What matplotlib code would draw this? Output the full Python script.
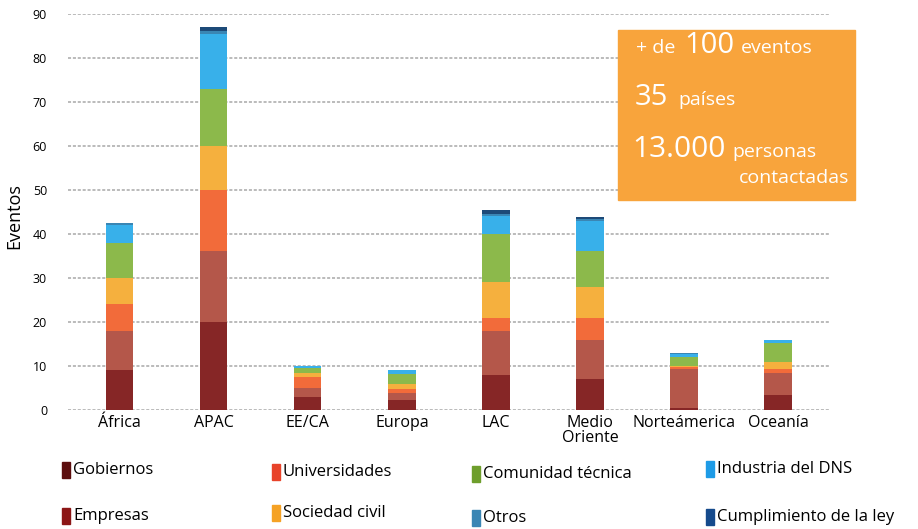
import matplotlib.pyplot as plt
from matplotlib.patches import Rectangle
import numpy as np

plt.rcParams['font.family'] = ['Open Sans', 'DejaVu Sans']

regions = ['África', 'APAC', 'EE/CA', 'Europa', 'LAC', 'Medio\nOriente', 'Norteámerica', 'Oceanía']

gobiernos      = [9, 20, 3, 2.3, 8, 7, 0.5, 3.5]
empresas       = [9, 16, 2, 1.5, 10, 9, 8.8, 5]
universidades  = [6, 14, 2.5, 1, 3, 5, 0.5, 0.8]
sociedad_civil = [6, 10, 1, 1, 8, 7, 0.3, 1.5]
comunidad      = [8, 13, 1, 2.3, 11, 8, 2, 4.5]
industria_dns  = [4, 12.5, 0.5, 1, 4, 7, 0.7, 0.7]
otros          = [0.5, 0.5, 0, 0, 0.5, 0.3, 0.2, 0]
cumplimiento   = [0, 1, 0, 0, 1, 0.5, 0, 0]

series = [
    ('Gobiernos', gobiernos, '#862626'),
    ('Empresas', empresas, '#b4574a'),
    ('Universidades', universidades, '#f26b3a'),
    ('Sociedad civil', sociedad_civil, '#f5b03e'),
    ('Comunidad técnica', comunidad, '#8cb94b'),
    ('Industria del DNS', industria_dns, '#38b0ea'),
    ('Otros', otros, '#3a86b4'),
    ('Cumplimiento de la ley', cumplimiento, '#1d4a78'),
]

fig = plt.figure(figsize=(9.18, 5.29), dpi=100)
ax = fig.add_axes([0.074, 0.225, 0.83, 0.749])

x = np.arange(len(regions))
bottom = np.zeros(len(regions))
for name, vals, col in series:
    ax.bar(x, vals, width=0.29, bottom=bottom, color=col, zorder=3)
    bottom += np.array(vals)

ax.set_xlim(-0.55, 7.55)
ax.set_ylim(0, 90)
ax.set_yticks(range(0, 91, 10))
ax.yaxis.grid(True, linestyle=(0, (2, 1.2)), color='#a8a8a8', linewidth=1.1)
for s in ax.spines.values():
    s.set_visible(False)
ax.tick_params(axis='both', length=0)
ax.tick_params(axis='y', labelsize=9, pad=15)
ax.set_xticks(x)
ax.set_xticklabels(regions, fontsize=11.5, linespacing=0.95)
ax.set_ylabel('Eventos', fontsize=13)
ax.yaxis.set_label_coords(-0.058, 0.49)

# summary box
fig.patches.append(Rectangle((618 / 918, 1 - 200 / 529), 237 / 918, 170 / 529,
                             transform=fig.transFigure, color='#f8a43c', zorder=5))
w = 'white'
fig.text(636 / 918, 1 - 53 / 529, '+ de', color=w, fontsize=14, va='baseline', zorder=6)
fig.text(684 / 918, 1 - 53 / 529, '100', color=w, fontsize=21, va='baseline', zorder=6)
fig.text(741 / 918, 1 - 53 / 529, 'eventos', color=w, fontsize=14, va='baseline', zorder=6)
fig.text(635 / 918, 1 - 105 / 529, '35', color=w, fontsize=21, va='baseline', zorder=6)
fig.text(678 / 918, 1 - 105 / 529, 'países', color=w, fontsize=14, va='baseline', zorder=6)
fig.text(632 / 918, 1 - 157 / 529, '13.000', color=w, fontsize=21.5, va='baseline', zorder=6)
fig.text(732 / 918, 1 - 157 / 529, 'personas', color=w, fontsize=14, va='baseline', zorder=6)
fig.text(849 / 918, 1 - 183 / 529, 'contactadas', color=w, fontsize=14, va='baseline',
         ha='right', zorder=6)

# legend
legend_pos = {
    'Gobiernos': (62, 470), 'Empresas': (62, 516),
    'Universidades': (272, 472), 'Sociedad civil': (272, 513),
    'Comunidad técnica': (472, 474), 'Otros': (472, 518),
    'Industria del DNS': (706, 469), 'Cumplimiento de la ley': (706, 517),
}
legend_cols = {
    'Gobiernos': '#5c0e0e', 'Empresas': '#8c1616', 'Universidades': '#e8432a',
    'Sociedad civil': '#f5a225', 'Comunidad técnica': '#6e9e2c', 'Otros': '#3a86b4',
    'Industria del DNS': '#1e9be6', 'Cumplimiento de la ley': '#154a8c',
}
for name, (px, py) in legend_pos.items():
    fig.patches.append(Rectangle((px / 918, 1 - (py + 8) / 529), 8 / 918, 16 / 529,
                                 transform=fig.transFigure, color=legend_cols[name]))
    fig.text((px + 11) / 918, 1 - py / 529, name, fontsize=12, va='center')

fig.savefig('out.png', dpi=100)
